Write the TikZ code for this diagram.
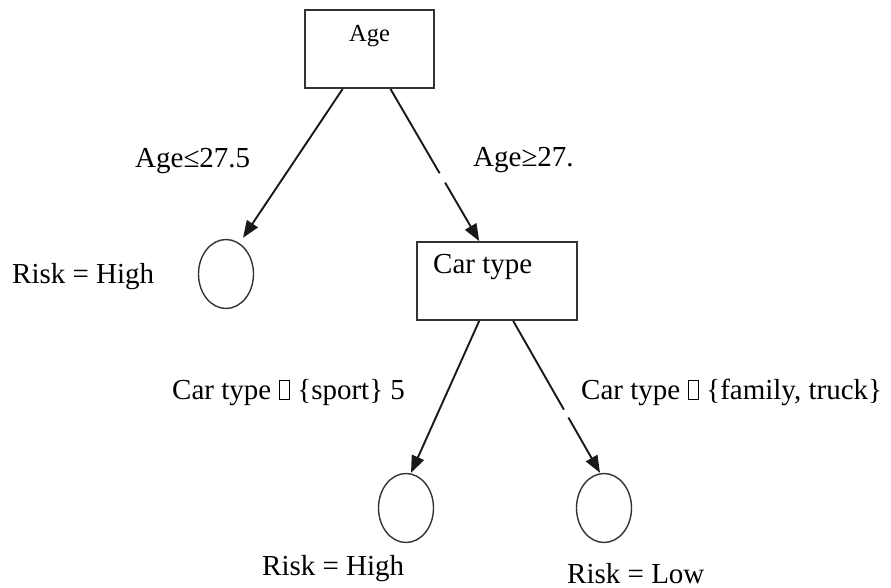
\documentclass[tikz,border=0pt]{standalone}
\usepackage{fontspec}
\setmainfont{Liberation Serif}
\usetikzlibrary{arrows.meta,shapes.geometric,calc}

% empty box standing in for an unrenderable set symbol
\newcommand\glyphbox{{\fboxsep=0pt\fboxrule=0.8pt\fbox{\rule{0pt}{18pt}\hspace{10pt}}}}

\begin{document}
\begin{tikzpicture}[x=1pt,y=-1pt,
  box/.style={draw=black!80, line width=1.8pt, rectangle, inner sep=0pt},
  leaf/.style={draw=black!80, line width=1.4pt, ellipse, inner sep=0pt,
               minimum width=55pt, minimum height=69pt},
  edge/.style={draw=black!90, line width=1.9pt, -{Triangle[length=17pt,width=13pt]}},
  lbl/.style={font=\fontsize{29}{33}\selectfont, inner sep=0pt, anchor=base west},
  gap/.style={draw=white, line width=6pt}]

\useasboundingbox (0,0) rectangle (891,588);

% decision nodes
\node[box, minimum width=129pt, minimum height=78pt] (age) at (369.5,49) {};
\node[font=\fontsize{24.5}{28}\selectfont, inner sep=0pt, anchor=base] (agetxt) at (369.5,42) {Age};
\node[box, minimum width=160pt, minimum height=78pt] (car) at (497,281) {};
\node[lbl] (cartxt) at (433,273) {Car type};

% leaves
\node[leaf] (l1) at (226,274) {};
\node[leaf] (l2) at (406,508) {};
\node[leaf] (l3) at (604,508) {};

% connector end points
\coordinate (a1) at ($(age.south west)!0.295!(age.south east)$);
\coordinate (a2) at ($(age.south west)!0.66!(age.south east)$);
\coordinate (cin) at ($(car.north west)!0.39!(car.north east)$);
\coordinate (c1) at ($(car.south west)!0.39!(car.south east)$);
\coordinate (c2) at ($(car.south west)!0.6!(car.south east)$);
\coordinate (t1) at ($(l1.north)+(17,-1)$);
\coordinate (t2) at ($(l2.north)+(5,0)$);
\coordinate (t3) at ($(l3.north)+(-4,0)$);

% branches
\draw[edge] (a1) -- (t1);
\draw[edge] (a2) -- (cin);
\draw[edge] (c1) -- (t2);
\draw[edge] (c2) -- (t3);

% small breaks in the right-hand branches
\draw[gap] ($(a2)!0.555!(cin)$) -- ($(a2)!0.615!(cin)$);
\draw[gap] ($(c2)!0.585!(t3)$) -- ($(c2)!0.635!(t3)$);

% branch conditions and outcomes
\node[lbl] (e1) at (135,168) {Age≤27.5};
\node[lbl] (e2) at (473,167) {Age≥27.};
\node[lbl] (r1) at (12,283) {Risk = High};
\node[lbl] (e3) at (172,399) {Car type \glyphbox{} \{sport\} 5};
\node[lbl] (e4) at (581,399) {Car type \glyphbox{} \{family, truck\}};
\node[lbl] (r2) at (262,575) {Risk = High};
\node[lbl] (r3) at (567,583) {Risk = Low};
\end{tikzpicture}
\end{document}
